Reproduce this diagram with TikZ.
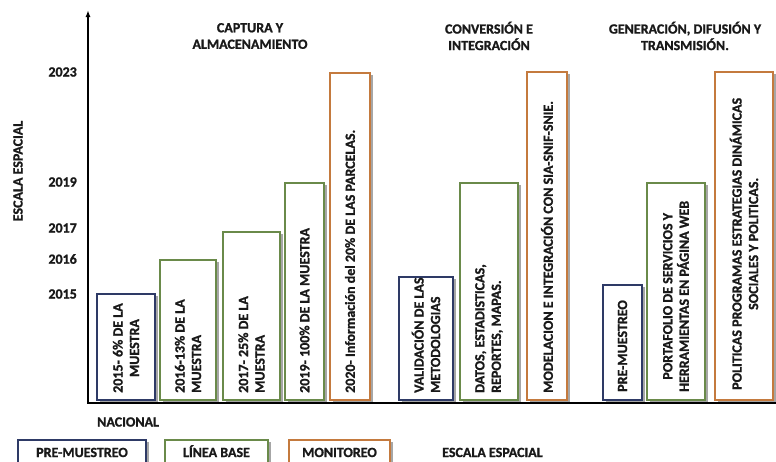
\documentclass[tikz,border=0pt]{standalone}
\usepackage{fontspec}
\setmainfont{Carlito}[BoldFont={Carlito Bold}, BoldFeatures={FakeBold=1.2}]
\usetikzlibrary{arrows.meta,shadows}
\definecolor{bl}{HTML}{2E3A66}
\definecolor{gr}{HTML}{6A8A4A}
\definecolor{orn}{HTML}{C47A3E}
\tikzset{
 bar/.style={draw=#1, line width=1.3pt, fill=white, drop shadow={shadow xshift=2.6pt, shadow yshift=-1.6pt, fill=black!35, opacity=1}},
 lbl/.style={font=\fontsize{14}{16.5}\selectfont\bfseries, inner sep=0pt, text=black!90},
 vt/.style={lbl, rotate=90, anchor=west},
 legbox/.style={draw=#1, line width=1.3pt, fill=white, drop shadow={shadow xshift=2.6pt, shadow yshift=-1.6pt, fill=black!35, opacity=1}},
}
\begin{document}
\begin{tikzpicture}[x=1pt,y=-1pt]
\useasboundingbox (0,0) rectangle (776,461);
\clip (0,0) rectangle (776,461);
% axes
\coordinate (o) at (88,403);
\coordinate (top) at (88,10);
\coordinate (right) at (780,403);
\draw[line width=1.6pt,-{Latex[length=7pt,width=5pt]}] (o) -- (top);
\draw[line width=1.8pt] (87,403) -- (right);
% headings
\node[lbl, align=center] (h1) at (250,36) {CAPTURA Y\\ALMACENAMIENTO};
\node[lbl, align=center] (h2) at (489,36) {CONVERSIÓN E\\INTEGRACIÓN};
\node[lbl, align=center] (h3) at (685,36) {GENERACIÓN, DIFUSIÓN Y\\TRANSMISIÓN.};
% years
\node[lbl, anchor=east] (y23) at (77,72) {2023};
\node[lbl, anchor=east] (y19) at (77,182) {2019};
\node[lbl, anchor=east] (y17) at (77,228) {2017};
\node[lbl, anchor=east] (y16) at (77,259) {2016};
\node[lbl, anchor=east] (y15) at (77,294) {2015};
\node[lbl, rotate=90] (esv) at (18,171) {ESCALA ESPACIAL};
% bars
\draw[bar=bl]  (97,400) rectangle (155,294);
\draw[bar=gr]  (160,400) rectangle (216,260);
\draw[bar=gr]  (223,400) rectangle (280,232);
\draw[bar=gr]  (285,400) rectangle (324,183);
\draw[bar=orn] (330,400) rectangle (370,73);
\draw[bar=bl]  (399,400) rectangle (453,277);
\draw[bar=gr]  (460,400) rectangle (518,183);
\draw[bar=orn] (527,400) rectangle (567,72);
\draw[bar=bl]  (603,400) rectangle (642,285);
\draw[bar=gr]  (647,400) rectangle (705,183);
\draw[bar=orn] (715,400) rectangle (773,72);
% bar texts
\node[vt, align=center] (t1) at (126,393) {2015- 6\% DE LA\\MUESTRA};
\node[vt, align=left] (t2) at (188,393) {2016-13\% DE LA\\MUESTRA};
\node[vt, align=left] (t3) at (251.5,393) {2017- 25\% DE LA\\MUESTRA};
\node[vt] (t4) at (304.5,393) {2019- 100\% DE LA MUESTRA};
\node[vt] (t5) at (350,393) {2020- Información del 20\% DE LAS PARCELAS.};
\node[vt, align=left] (t6) at (426,393) {VALIDACIÓN DE LAS\\METODOLOGIAS};
\node[vt, align=left] (t7) at (489,393) {DATOS, ESTADISTICAS,\\REPORTES, MAPAS.};
\node[vt] (t8) at (547,393) {MODELACION E INTEGRACIÓN CON SIA-SNIF-SNIE.};
\node[vt] (t9) at (622.5,392) {PRE-MUESTREO};
\node[vt, align=center] (t10) at (676,392) {PORTAFOLIO DE SERVICIOS Y\\HERRAMIENTAS EN PÁGINA WEB};
\node[vt, align=center] (t11) at (744,390) {POLITICAS PROGRAMAS ESTRATEGIAS DINÁMICAS\\SOCIALES Y POLITICAS.};
% bottom labels
\node[lbl, anchor=west] (nac) at (97,422) {NACIONAL};
\draw[legbox=bl]  (18,470) rectangle (146,440);
\draw[legbox=gr]  (165,470) rectangle (268,440);
\draw[legbox=orn] (289,470) rectangle (390,440);
\node[lbl, anchor=base] (l1) at (82,457) {PRE-MUESTREO};
\node[lbl, anchor=base] (l2) at (216.5,457) {LÍNEA BASE};
\node[lbl, anchor=base] (l3) at (339.5,457) {MONITOREO};
\node[lbl, anchor=base west] (esh) at (442,457) {ESCALA ESPACIAL};
\end{tikzpicture}
\end{document}
